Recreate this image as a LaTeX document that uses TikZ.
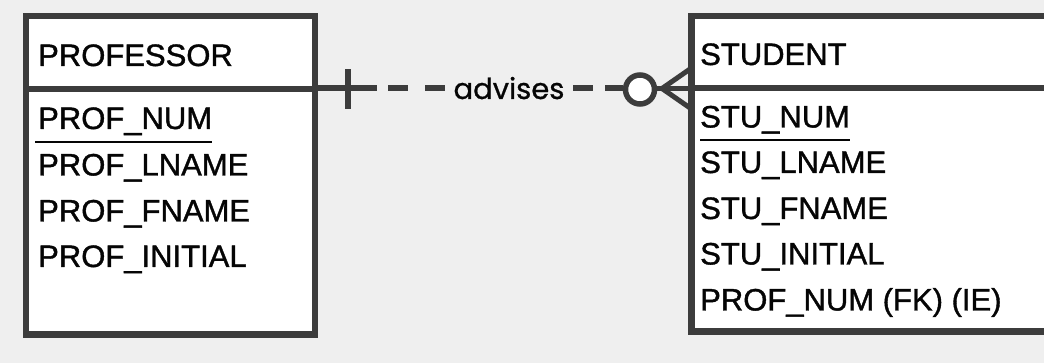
\documentclass[tikz,border=0pt]{standalone}
\usepackage{fontspec}
\setmainfont{Liberation Sans}[FakeBold=1.2]
\newfontfamily\relfont{Poppins}[FakeBold=0.8]
\usetikzlibrary{calc}
\definecolor{bg}{HTML}{EFEFEF}
\definecolor{ink}{HTML}{3C3C3C}
\definecolor{txt}{HTML}{050505}
\tikzset{
 entity/.style={draw=ink, line width=6.5pt, fill=white, inner sep=0pt, outer sep=0pt, anchor=north west},
 attr/.style={anchor=base west, inner sep=0pt, text=txt, font=\fontsize{31}{31}\selectfont},
 divider/.style={draw=ink, line width=6pt},
 conn/.style={draw=ink, line width=6pt},
 keyline/.style={draw=txt, line width=2.5pt},
 rellabel/.style={inner sep=0pt, anchor=base, text=txt, font=\relfont\fontsize{29}{29}\selectfont},
 optcircle/.style={circle, draw=ink, line width=5.5pt, fill=white, minimum size=29pt, inner sep=0pt, outer sep=0pt},
}
\begin{document}
\begin{tikzpicture}[x=1pt,y=-1pt]
\useasboundingbox (0,0) rectangle (1044,363);
\fill[bg] (0,0) rectangle (1044,363);
\clip (0,0) rectangle (1044,363);
% entities
\node[entity, minimum width=289pt, minimum height=318.5pt] (prof) at (26,16) {};
\node[entity, minimum width=400pt, minimum height=315.5pt] (stu) at (691.5,16) {};
\coordinate (pdiv) at (0,89);
\coordinate (sdiv) at (0,88.5);
\draw[divider] (prof.west |- pdiv) -- (prof.east |- pdiv);
\draw[divider] (stu.west |- sdiv) -- (stu.east |- sdiv);
% professor text
\node[attr] (pname) at (38,66) {PROFESSOR};
\node[attr] (pnum) at (38,129) {PROF\_NUM};
\node[attr] (plname) at (38,175.5) {PROF\_LNAME};
\node[attr] (pfname) at (38,221.5) {PROF\_FNAME};
\node[attr] (pinit) at (38,267) {PROF\_INITIAL};
\draw[keyline] ($(pnum.base west)+(-3,13)$) -- ($(pnum.base east)+(0,13)$);
% student text
\node[attr] (sname) at (700,65) {STUDENT};
\node[attr] (snum) at (700,127.5) {STU\_NUM};
\node[attr] (slname) at (700,173) {STU\_LNAME};
\node[attr] (sfname) at (700,219) {STU\_FNAME};
\node[attr] (sinit) at (700,264.5) {STU\_INITIAL};
\node[attr] (sfk) at (700,310.5) {PROF\_NUM (FK) (IE)};
\draw[keyline] ($(snum.base west)+(0,12.5)$) -- ($(snum.base east)+(0,12.5)$);
% relationship
\coordinate (lineY) at (0,88.5);
\coordinate (s1) at (377,88.5);
\coordinate (tk) at (347.5,88.5);
\draw[conn] (prof.east |- lineY) -- (s1);
\draw[conn] ($(tk)+(0,-19)$) -- ($(tk)+(0,21)$);
\coordinate (d1a) at (388,88.5);
\coordinate (d1b) at (447,88.5);
\draw[conn, dash pattern=on 20pt off 17pt] (d1a) -- (d1b);
\node[rellabel] (rel) at (509,99) {advises};
\coordinate (d2a) at (573,88.5);
\coordinate (d2b) at (623,88.5);
\draw[conn, dash pattern=on 20pt off 12pt] (d2a) -- (d2b);
\node[optcircle] (opt) at (640,89.5) {};
\coordinate (cf) at (662,88.5);
\draw[conn, line width=5pt] (opt.east |- lineY) -- (stu.west |- lineY);
\draw[conn, line width=5pt, line join=miter] (stu.west |- 0,68) -- (cf) -- (stu.west |- 0,109);
\end{tikzpicture}
\end{document}
